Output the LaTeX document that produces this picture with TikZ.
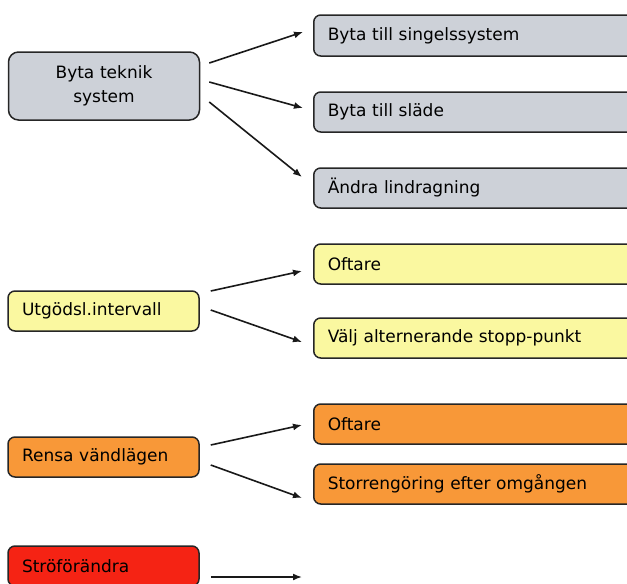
\documentclass[tikz,border=0pt]{standalone}
\usepackage{fontspec}
\setmainfont{DejaVu Sans}
\usetikzlibrary{arrows.meta}
\definecolor{grayfill}{RGB}{205,209,216}
\definecolor{yellowfill}{RGB}{250,248,160}
\definecolor{orangefill}{RGB}{248,152,56}
\definecolor{redfill}{RGB}{245,35,20}

\begin{document}
\begin{tikzpicture}[x=1pt,y=-1pt]
            \tikzstyle{cause}=[rectangle, rounded corners=7pt, line width=1.5pt, draw = black!85, minimum height=40pt, text width=163pt, inner xsep=14pt, align=left, font=\fontsize{17}{24}\selectfont]
            \tikzstyle{action}=[rectangle, rounded corners=7pt, line width=1.5pt, draw = black!85, minimum height=40pt, text width=312pt, inner xsep=14pt, align=left, anchor=west, font=\fontsize{17}{24}\selectfont]
            \tikzstyle{connect}=[line width=1.6pt, draw=black!90, -{Latex[length=9pt,width=7pt]}]
            \useasboundingbox (0,0) rectangle (627,584);
            \clip (0,0) rectangle (627,584);

            \node[cause, fill=grayfill, minimum height=68pt, rounded corners=10pt, align=center] (B) at (104,86){Byta teknik\\system};
            \node[action, fill=grayfill, minimum height=41pt] (B1) at (313,35.5){Byta till singelssystem};
            \node[action, fill=grayfill] (B2) at (313,112){Byta till släde};
            \node[action, fill=grayfill] (B3) at (313,188){Ändra lindragning};

            \node[cause, fill=yellowfill] (U) at (103.5,311){Utgödsl.intervall};
            \node[action, fill=yellowfill] (U1) at (313,264){Oftare};
            \node[action, fill=yellowfill] (U2) at (313,338){Välj alternerande stopp-punkt};

            \node[cause, fill=orangefill] (R) at (103.5,457){Rensa vändlägen};
            \node[action, fill=orangefill] (R1) at (313,424){Oftare};
            \node[action, fill=orangefill] (R2) at (313,484){Storrengöring efter omgången};

            \node[cause, fill=redfill] (S) at (103.5,566){Ströförändra};
            \coordinate (S1) at (302,577);

            \path ([shift={(9,-23)}]B.east) edge [connect] ([shift={(-10,-3.5)}]B1.west);
            \path ([shift={(9,-4)}]B.east) edge [connect] ([shift={(-10,-4)}]B2.west);
            \path ([shift={(9,16)}]B.east) edge [connect] ([shift={(-11,-11)}]B3.west);
            \path ([shift={(11,-20)}]U.east) edge [connect] ([shift={(-11,7)}]U1.west);
            \path ([shift={(11,-1)}]U.east) edge [connect] ([shift={(-11,4)}]U2.west);
            \path ([shift={(11,-12)}]R.east) edge [connect] ([shift={(-11,1)}]R1.west);
            \path ([shift={(11,8)}]R.east) edge [connect] ([shift={(-11,14)}]R2.west);
            \path ([shift={(11,11)}]S.east) edge [connect] (S1);

        \end{tikzpicture}
\end{document}
